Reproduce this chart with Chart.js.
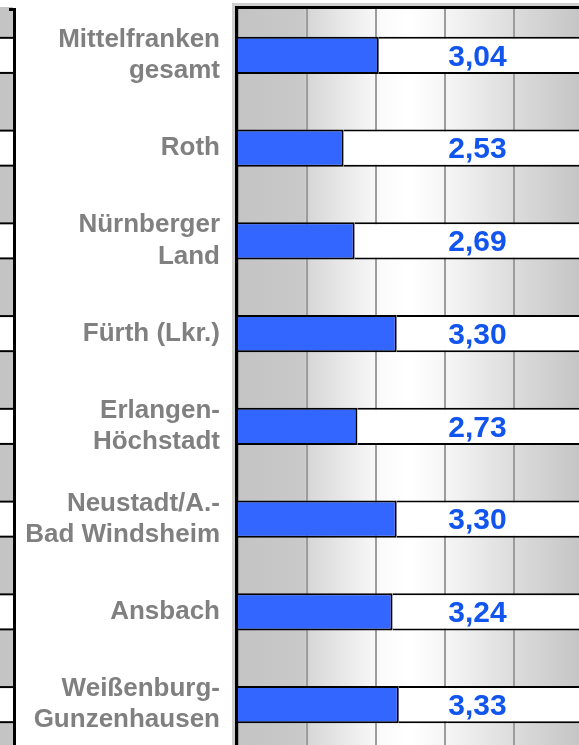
<!DOCTYPE html>
<html>
<head>
<meta charset="utf-8">
<script src="https://cdn.jsdelivr.net/npm/chart.js@4"></script>
<style>
  html, body { margin: 0; padding: 0; background: #fff; overflow: hidden; }
  #wrap { width: 600px; height: 760px; }
</style>
</head>
<body>
<div id="wrap"><canvas id="chart" width="600" height="760"></canvas></div>
<script>
// Data
const categories = [
    ['Mittelfranken', 'gesamt'],
    'Roth',
    ['Nürnberger', 'Land'],
    'Fürth (Lkr.)',
    ['Erlangen-', 'Höchstadt'],
    ['Neustadt/A.-', 'Bad Windsheim'],
    'Ansbach',
    ['Weißenburg-', 'Gunzenhausen']
];
const values = [3.04, 2.53, 2.69, 3.30, 2.73, 3.30, 3.24, 3.33];
const xMin = 1;
const xMax = 6;
const xStep = 1;
const labelPos = 4.47; // value labels sit in a fixed column

const fontFamily = "'Liberation Sans', Arial, Helvetica, sans-serif";

// gradient plot background + neighbouring chart strip on the left
const backgroundPlugin = {
    id: 'background',
    beforeDraw(chart) {
        const ctx = chart.ctx;
        const a = chart.chartArea;
        const y = chart.scales.y;
        ctx.save();

        // shadow line round the frame
        ctx.fillStyle = '#cfcfcf';
        ctx.fillRect(a.left - 6, a.top - 3, 3, a.bottom - a.top + 3);
        ctx.fillRect(a.left - 6, a.top - 6, a.right - a.left + 6, 3);

        const g = ctx.createLinearGradient(a.left, 0, a.right, 0);
        g.addColorStop(0, '#c4c4c4');
        g.addColorStop(0.19, '#c9c9c9');
        g.addColorStop(0.21, '#d8d8d8');
        g.addColorStop(0.42, '#fbfbfb');
        g.addColorStop(0.5, '#ffffff');
        g.addColorStop(0.6, '#f6f6f6');
        g.addColorStop(0.8, '#dcdcdc');
        g.addColorStop(1, '#c4c4c4');
        ctx.fillStyle = g;
        ctx.fillRect(a.left, a.top, a.right - a.left, a.bottom - a.top);

        // right edge of the neighbouring chart
        const stripRight = 13;
        ctx.fillStyle = '#c4c4c4';
        ctx.fillRect(0, a.top - 2, stripRight, a.bottom - a.top + 2);
        const band = (a.bottom - a.top) / categories.length;
        const h = band * 0.4;
        categories.forEach((c, i) => {
            const cy = y.getPixelForValue(i);
            ctx.fillStyle = '#ffffff';
            ctx.fillRect(0, cy - h / 2, stripRight, h);
            ctx.fillStyle = '#000000';
            ctx.fillRect(0, cy - h / 2, stripRight, 2);
            ctx.fillRect(0, cy + h / 2 - 2, stripRight, 2);
        });
        ctx.fillStyle = '#000000';
        ctx.fillRect(stripRight, a.top - 1, 3, a.bottom - a.top + 1);
        ctx.fillRect(stripRight - 4, a.top - 1, 6, 3);
        ctx.restore();
    },
    afterDatasetsDraw(chart) {
        const ctx = chart.ctx;
        const a = chart.chartArea;
        ctx.save();
        ctx.fillStyle = '#000000';
        ctx.fillRect(a.left - 3, a.top - 3, 3, a.bottom - a.top + 3);
        ctx.fillRect(a.left - 3, a.top - 3, a.right - a.left + 3, 3);
        ctx.restore();
    }
};

const valueLabels = {
    id: 'valueLabels',
    afterDatasetsDraw(chart) {
        const ctx = chart.ctx;
        const x = chart.scales.x.getPixelForValue(labelPos);
        ctx.save();
        ctx.font = 'bold 30px ' + fontFamily;
        ctx.fillStyle = '#1155ee';
        ctx.textAlign = 'center';
        ctx.textBaseline = 'middle';
        values.forEach((v, i) => {
            const y = chart.scales.y.getPixelForValue(i);
            ctx.fillText(v.toFixed(2).replace('.', ','), x, y + 2);
        });
        ctx.restore();
    }
};

new Chart(document.getElementById('chart'), {
    type: 'bar',
    data: {
        labels: categories,
        datasets: [
            {
                data: values,
                backgroundColor: '#3366ff',
                borderColor: '#000000',
                borderWidth: 2,
                grouped: false,
                clip: 0,
                order: 1
            },
            {
                data: values.map(v => [v, xMax]),
                backgroundColor: '#ffffff',
                borderColor: '#000000',
                borderWidth: 2,
                grouped: false,
                clip: 0,
                order: 2
            }
        ]
    },
    options: {
        indexAxis: 'y',
        responsive: false,
        animation: false,
        categoryPercentage: 1,
        barPercentage: 0.4,
        layout: {
            padding: { top: 9, right: 17, bottom: 9, left: 0 }
        },
        plugins: {
            legend: { display: false },
            tooltip: { enabled: false }
        },
        scales: {
            x: {
                min: xMin,
                max: xMax,
                ticks: { display: false, stepSize: xStep },
                border: { display: false },
                grid: {
                    color: '#9c9c9c',
                    lineWidth: 2,
                    drawTicks: false
                },
                afterFit(scale) {
                    scale.height = 0;
                    scale.paddingLeft = 0;
                    scale.paddingRight = 0;
                }
            },
            y: {
                border: { display: false },
                grid: { display: false, drawTicks: false },
                ticks: {
                    padding: 18,
                    color: '#808080',
                    font: { family: fontFamily, size: 26, weight: 'bold', lineHeight: 1.2 }
                },
                afterFit(scale) {
                    scale.width = 238;
                    scale.paddingTop = 0;
                    scale.paddingBottom = 0;
                }
            }
        }
    },
    plugins: [backgroundPlugin, valueLabels]
});
</script>
</body>
</html>
